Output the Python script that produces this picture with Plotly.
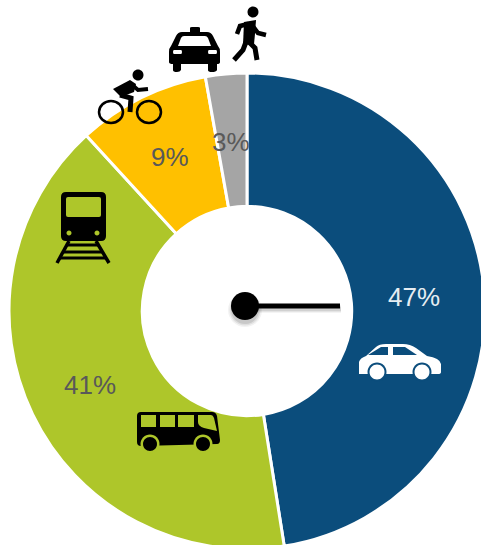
import plotly.graph_objects as go

modes = ["Car", "Public transport", "Bicycle", "Taxi and walking"]
shares = [47.5, 40.7, 9.0, 2.8]
share_labels = ["47%", "41%", "9%", "3%"]
colors = ["#0B4D7C", "#AEC62A", "#FFC000", "#A5A5A5"]
label_colors = ["#E6EDF2", "#595959", "#595959", "#595959"]
label_pos = [(414, 297), (90, 385), (170, 157), (231, 142)]

W, H = 500, 560
CX, CY, R = 247, 311, 238
BLUE, GREEN = colors[0], colors[1]

fig = go.Figure()
fig.add_trace(go.Pie(
    labels=modes, values=shares, sort=False, direction="clockwise", rotation=0,
    hole=0.44, textinfo="none", hoverinfo="label+percent",
    marker=dict(colors=colors, line=dict(color="white", width=3)),
    domain=dict(x=[(CX - R) / W, (CX + R) / W], y=[1 - (CY + R) / H, 1 - (CY - R) / H]),
    showlegend=False,
))
fig.add_trace(go.Scatter(
    x=[245, 340], y=[306, 306], mode="lines", line=dict(color="black", width=5),
    hoverinfo="skip", showlegend=False,
))
fig.add_trace(go.Scatter(
    x=[245], y=[306], mode="markers", marker=dict(color="black", size=28),
    hoverinfo="skip", showlegend=False,
))

shapes = []


def fill(path, color="black"):
    shapes.append(dict(type="path", path=path, fillcolor=color, line=dict(width=0),
                       xref="x", yref="y", layer="above"))


def stroke(path, width, color="black"):
    shapes.append(dict(type="path", path=path, line=dict(color=color, width=width),
                       xref="x", yref="y", layer="above"))


def circle(x, y, rx, ry=None):
    ry = ry or rx
    kx, ky = 0.5523 * rx, 0.5523 * ry
    return (f"M{x - rx},{y} C{x - rx},{y - ky} {x - kx},{y - ry} {x},{y - ry} "
            f"C{x + kx},{y - ry} {x + rx},{y - ky} {x + rx},{y} "
            f"C{x + rx},{y + ky} {x + kx},{y + ry} {x},{y + ry} "
            f"C{x - kx},{y + ry} {x - rx},{y + ky} {x - rx},{y} Z")


# needle shadow
for off, w, op in [(3, 8, 0.04), (3, 6, 0.06), (3, 4, 0.08)]:
    shapes.append(dict(type="path", path=f"M250,{306 + off} L341,{306 + off}",
                       line=dict(color="black", width=w), opacity=op,
                       xref="x", yref="y", layer="below"))
for r, op in [(17, 0.05), (15.5, 0.08), (14, 0.1)]:
    shapes.append(dict(type="path", path=circle(245, 310, r), fillcolor="black",
                       line=dict(width=0), opacity=op, xref="x", yref="y", layer="below"))

# car
fill("M359,372 L359,362 Q360,358 366,356 L376,347 Q379,344 386,344 L403,344 Q410,344 416,348 "
     "L427,356 Q440,358 441,364 L441,372 Q441,374 438,374 L359,374 Z", "white")
fill("M368,355 L381,347 L388,347 L388,355 Z", BLUE)
fill("M393,347 L405,347 L417,355 L393,355 Z", BLUE)
for cx in (377, 422):
    fill(circle(cx, 372, 9.5), BLUE)
    fill(circle(cx, 372, 7.5), "white")

# taxi
fill("M190,32 L190,28 Q190,27 192,27 L198,27 Q200,27 200,28 L200,32 L207,32 Q211,32 213,36 "
     "L218,46 Q220,48 220,52 L220,62 Q220,64 217,64 L217,70 Q216,72 212,72 Q208,72 208,70 L208,64 "
     "L181,64 L181,70 Q180,72 177,72 Q173,72 173,70 L173,64 Q169,64 169,62 L169,52 Q169,48 171,46 "
     "L176,36 Q178,32 182,32 Z")
fill("M184,36 L205,36 Q207,36 208,38 L211,46 L178,46 L181,38 Q182,36 184,36 Z", "white")
fill("M174,50 L181,50 Q182,50 182,52 Q182,54 181,54 L174,54 Q173,54 173,52 Q173,50 174,50 Z", "white")
fill("M209,50 L216,50 Q217,50 217,52 Q217,54 216,54 L209,54 Q208,54 208,52 Q208,50 209,50 Z", "white")

# walker
fill(circle(253, 12, 5.5))
fill("M244,22 L256,20 L255,34 L254,44 L243,45 Z")
stroke("M248,24 L240,26 L237,34", 4.5)
stroke("M252,25 L258,33 L266,35", 4.5)
stroke("M246,42 L243,50 L234,60", 5)
stroke("M249,42 L255,48 L257,60", 5)

# cyclist
fill(circle(138, 75, 5.5))
fill("M113,89 L130,80 L136,84 L134,92 L121,97 Z")
stroke("M130,83 L138,90 L148,89", 4)
stroke("M120,95 L131,98 L130,112", 5)
stroke(circle(111, 112, 12, 11), 2.5)
stroke(circle(149, 112, 12, 11), 2.5)

# train
fill("M66,192 L101,192 Q106,192 106,197 L106,236 Q106,241 101,241 L66,241 Q61,241 61,236 L61,197 Q61,192 66,192 Z")
fill("M68,197 L99,197 Q101,197 101,199 L101,215 Q101,217 99,217 L68,217 Q66,217 66,215 L66,199 Q66,197 68,197 Z", GREEN)
fill(circle(69, 233, 2.5), GREEN)
fill(circle(97, 233, 2.5), GREEN)
stroke("M69,241 L57,263", 3.5)
stroke("M96,241 L109,263", 3.5)
stroke("M66,245 L99,245", 3)
stroke("M63,252 L102,252", 3)
stroke("M60,258 L106,258", 3)

# bus
fill("M141,412 L212,412 Q216,412 217,416 L220,440 Q220,444 217,444 L141,446 Q137,446 137,442 L137,416 Q137,412 141,412 Z")
for x0, x1 in [(141, 156), (160, 175), (178, 194)]:
    fill(f"M{x0},415 L{x1},415 L{x1},427 L{x0},427 Z", GREEN)
fill("M198,415 L211,415 Q213,415 214,418 L217,431 L204,428 Q198,426 198,422 Z", GREEN)
for cx in (150, 203):
    fill(circle(cx, 444, 9.5), GREEN)
    fill(circle(cx, 444, 7))

annotations = [
    dict(x=x, y=y, text=t, showarrow=False, xref="x", yref="y", xanchor="center", yanchor="middle",
         font=dict(family="Liberation Sans, Arial, sans-serif", size=26, color=c))
    for t, c, (x, y) in zip(share_labels, label_colors, label_pos)
]

fig.update_layout(
    width=W, height=H, margin=dict(l=0, r=0, t=0, b=0, autoexpand=False),
    paper_bgcolor="white", plot_bgcolor="rgba(0,0,0,0)",
    xaxis=dict(visible=False, range=[0, W], fixedrange=True),
    yaxis=dict(visible=False, range=[H, 0], fixedrange=True),
    shapes=shapes, annotations=annotations,
)
fig.write_html(
    "out.html",
    config={"displayModeBar": False},
    post_script="document.body.style.margin='0';document.documentElement.style.overflow='hidden';document.body.style.overflow='hidden';",
)
